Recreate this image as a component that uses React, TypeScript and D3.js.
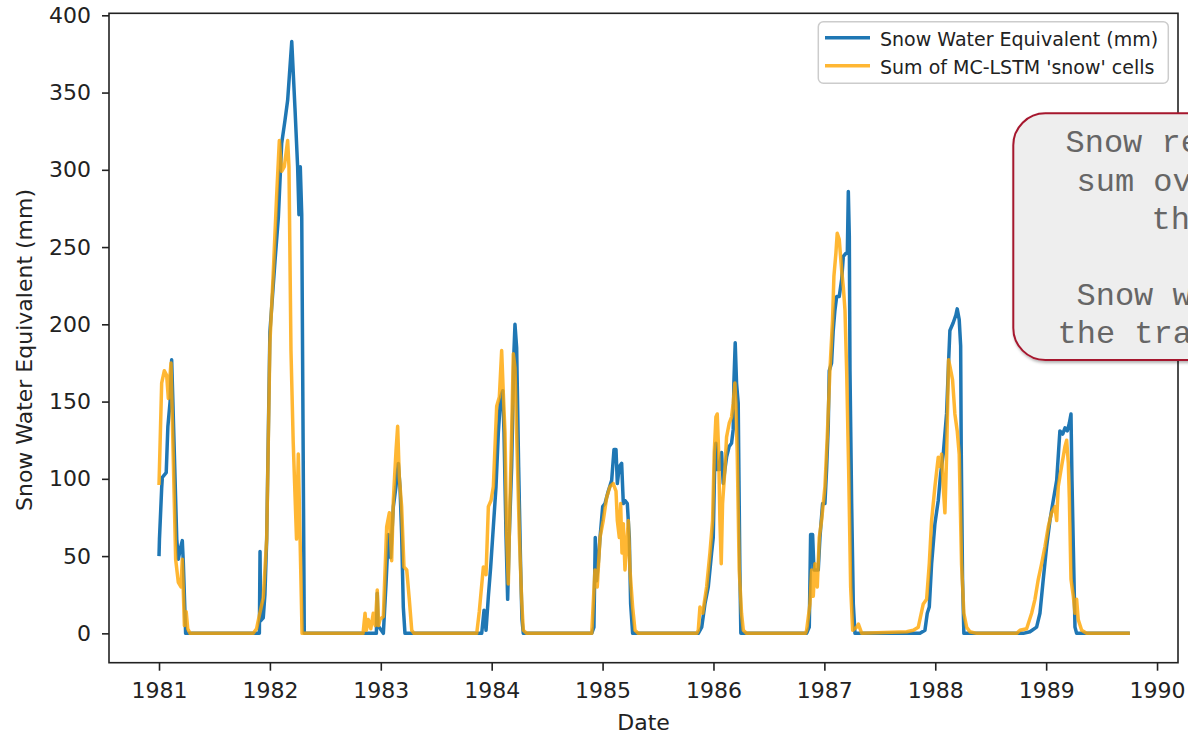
import React, { useRef, useEffect } from "react";
import * as d3 from "d3";

// observed snow water equivalent, [decimal year, mm]
const sweObserved: [number, number][] = [
  [1981.0, 50], [1981.004, 61], [1981.024, 94], [1981.03, 101], [1981.065, 104], [1981.08, 134], [1981.1, 150],
  [1981.114, 177], [1981.125, 150], [1981.16, 61], [1981.174, 48], [1981.196, 56], [1981.21, 60], [1981.219, 46], [1981.24, 0],
  [1981.905, 0], [1981.911, 53], [1981.916, 8], [1981.94, 10], [1981.955, 25], [1981.971, 61], [1982.0, 195], [1982.046, 241],
  [1982.076, 269], [1982.106, 317], [1982.136, 332], [1982.16, 345], [1982.197, 383], [1982.226, 340], [1982.25, 302],
  [1982.262, 271], [1982.274, 302], [1982.287, 271], [1982.31, 0],
  [1982.96, 0], [1982.968, 26], [1982.975, 5], [1983.023, 0], [1983.047, 32], [1983.068, 64], [1983.089, 49], [1983.113, 82],
  [1983.137, 95], [1983.158, 110], [1983.173, 95], [1983.188, 64], [1983.203, 17], [1983.218, 0],
  [1983.91, 0], [1983.931, 15], [1983.949, 2], [1983.97, 24], [1983.991, 43], [1984.015, 69], [1984.039, 95], [1984.06, 130],
  [1984.081, 153], [1984.099, 157], [1984.111, 130], [1984.129, 64], [1984.144, 22], [1984.159, 64], [1984.18, 108],
  [1984.201, 183], [1984.21, 200], [1984.225, 185], [1984.243, 108], [1984.261, 43], [1984.273, 9], [1984.285, 0],
  [1984.902, 0], [1984.922, 4], [1984.934, 62], [1984.946, 34], [1984.961, 45], [1984.977, 62], [1985.001, 82], [1985.022, 84],
  [1985.051, 92], [1985.082, 99], [1985.103, 119], [1985.121, 119], [1985.133, 97], [1985.151, 108], [1985.172, 110],
  [1985.187, 84], [1985.202, 86], [1985.223, 84], [1985.241, 62], [1985.253, 19], [1985.271, 0],
  [1985.863, 0], [1985.894, 4], [1985.923, 19], [1985.953, 30], [1985.983, 52], [1985.998, 62], [1986.013, 117], [1986.022, 123],
  [1986.034, 106], [1986.052, 106], [1986.073, 117], [1986.088, 97], [1986.103, 106], [1986.118, 114], [1986.142, 121],
  [1986.163, 123], [1986.178, 132], [1986.184, 162], [1986.196, 188], [1986.208, 162], [1986.223, 149], [1986.238, 41], [1986.247, 0],
  [1986.84, 0], [1986.864, 4], [1986.876, 64], [1986.894, 64], [1986.906, 41], [1986.945, 41], [1986.96, 62], [1986.984, 84],
  [1987.005, 84], [1987.02, 106], [1987.035, 134], [1987.044, 170], [1987.065, 175], [1987.08, 196], [1987.095, 209],
  [1987.111, 218], [1987.134, 218], [1987.156, 229], [1987.171, 244], [1987.195, 246], [1987.207, 246], [1987.216, 286],
  [1987.225, 257], [1987.231, 170], [1987.246, 84], [1987.261, 19], [1987.276, 0],
  [1987.862, 0], [1987.907, 2], [1987.928, 13], [1987.946, 17], [1987.967, 45], [1987.997, 71], [1988.027, 86], [1988.048, 103],
  [1988.072, 116], [1988.102, 142], [1988.12, 175], [1988.132, 196], [1988.162, 201], [1988.186, 206], [1988.198, 210],
  [1988.216, 203], [1988.229, 186], [1988.234, 121], [1988.246, 35], [1988.258, 0],
  [1988.794, 0], [1988.854, 1], [1988.914, 4], [1988.944, 13], [1988.974, 35], [1989.004, 56], [1989.034, 73], [1989.064, 86],
  [1989.095, 99], [1989.124, 131], [1989.149, 129], [1989.17, 133], [1989.191, 131], [1989.209, 136], [1989.224, 142],
  [1989.233, 99], [1989.245, 56], [1989.26, 4], [1989.275, 0],
  [1989.755, 0],
];

// sum of MC-LSTM 'snow' cells, [decimal year, mm]
const mcLstmSnow: [number, number][] = [
  [1981.0, 96], [1981.024, 162], [1981.048, 170], [1981.069, 167], [1981.084, 152], [1981.108, 175], [1981.129, 112],
  [1981.15, 48], [1981.174, 33], [1981.198, 30], [1981.21, 48], [1981.229, 5], [1981.245, 14], [1981.259, 3], [1981.28, 0],
  [1981.85, 0], [1981.88, 3], [1981.9, 10], [1981.94, 23], [1981.971, 61], [1982.0, 188], [1982.03, 233], [1982.06, 282],
  [1982.085, 319], [1982.106, 299], [1982.13, 302], [1982.16, 319], [1982.172, 302], [1982.19, 183], [1982.21, 124],
  [1982.24, 61], [1982.256, 116], [1982.27, 68], [1982.29, 0],
  [1982.84, 0], [1982.858, 13], [1982.87, 2], [1982.887, 9], [1982.91, 3], [1982.932, 13], [1982.95, 5], [1982.968, 28],
  [1982.98, 5], [1982.993, 9], [1983.023, 11], [1983.053, 69], [1983.077, 78], [1983.098, 47], [1983.113, 86], [1983.137, 118],
  [1983.152, 134], [1983.167, 101], [1983.188, 82], [1983.209, 43], [1983.234, 41], [1983.257, 22], [1983.279, 2], [1983.3, 0],
  [1983.865, 0], [1983.888, 14], [1983.925, 43], [1983.949, 38], [1983.97, 82], [1983.994, 86], [1984.015, 95], [1984.045, 147],
  [1984.069, 153], [1984.09, 183], [1984.105, 155], [1984.12, 130], [1984.135, 64], [1984.15, 32], [1984.165, 86],
  [1984.18, 130], [1984.195, 181], [1984.21, 172], [1984.225, 130], [1984.249, 64], [1984.27, 22], [1984.285, 2], [1984.316, 0],
  [1984.902, 0], [1984.931, 41], [1984.952, 30], [1984.977, 62], [1985.006, 73], [1985.037, 88], [1985.067, 95], [1985.096, 97],
  [1985.121, 92], [1985.133, 73], [1985.151, 62], [1985.163, 84], [1985.175, 52], [1985.187, 71], [1985.202, 41],
  [1985.232, 73], [1985.247, 41], [1985.271, 17], [1985.292, 2], [1985.322, 0],
  [1985.85, 0], [1985.863, 2], [1985.878, 17], [1985.903, 13], [1985.938, 30], [1985.968, 52], [1985.992, 73], [1986.007, 117],
  [1986.022, 140], [1986.034, 142], [1986.047, 117], [1986.058, 73], [1986.07, 45], [1986.082, 84], [1986.103, 106],
  [1986.118, 127], [1986.142, 136], [1986.163, 140], [1986.178, 149], [1986.193, 162], [1986.202, 149], [1986.214, 117],
  [1986.232, 41], [1986.253, 13], [1986.269, 2], [1986.299, 0],
  [1986.83, 0], [1986.84, 2], [1986.87, 19], [1986.885, 41], [1986.9, 24], [1986.915, 45], [1986.936, 30], [1986.954, 62],
  [1986.975, 73], [1987.005, 95], [1987.026, 127], [1987.05, 170], [1987.074, 203], [1987.086, 231], [1987.104, 246],
  [1987.116, 259], [1987.134, 255], [1987.156, 235], [1987.171, 224], [1987.186, 209], [1987.201, 170], [1987.219, 106],
  [1987.237, 30], [1987.255, 2], [1987.292, 4], [1987.307, 6], [1987.337, 0],
  [1987.742, 1], [1987.802, 2], [1987.847, 4], [1987.862, 9], [1987.892, 19], [1987.922, 22], [1987.946, 45], [1987.967, 73],
  [1987.997, 95], [1988.027, 114], [1988.042, 108], [1988.057, 116], [1988.072, 95], [1988.087, 78], [1988.102, 114],
  [1988.12, 177], [1988.132, 173], [1988.156, 164], [1988.177, 142], [1988.198, 131], [1988.216, 116], [1988.237, 45],
  [1988.258, 13], [1988.283, 4], [1988.313, 1], [1988.373, 0],
  [1988.734, 0], [1988.764, 2], [1988.824, 3], [1988.869, 13], [1988.899, 22], [1988.929, 35], [1988.959, 45], [1988.989, 56],
  [1989.019, 69], [1989.049, 78], [1989.079, 82], [1989.095, 73], [1989.109, 95], [1989.139, 108], [1989.17, 121],
  [1989.185, 125], [1989.2, 110], [1989.209, 88], [1989.224, 35], [1989.245, 24], [1989.26, 13], [1989.275, 22],
  [1989.289, 9], [1989.32, 2], [1989.365, 0],
  [1989.755, 0],
];

const yearTicks = [1981, 1982, 1983, 1984, 1985, 1986, 1987, 1988, 1989, 1990];
const sweTicks = [0, 50, 100, 150, 200, 250, 300, 350, 400];
const seriesLabels = ["Snow Water Equivalent (mm)", "Sum of MC-LSTM 'snow' cells"];
const seriesColors = ["#1f77b4", "#ffa500"];
const noteLines = [
  "Snow reservoir is the",
  "sum over all 'snow'",
  "the cells",
  "",
  "Snow was not part of",
  "the training target",
];

const W = 1188;
const H = 734;

const App = () => {
  const svgRef = useRef<SVGSVGElement>(null);

  useEffect(() => {
    document.body.style.margin = "0";
    const svg = d3.select(svgRef.current);
    svg.selectAll("*").remove();

    const left = 109, right = 1178, top = 13.3, bottom = 662.7;

    const x = d3.scaleLinear().domain([1980.549, 1990.189]).range([left, right]);
    const y = d3.scaleLinear().domain([-19, 401.3]).range([bottom, top]);

    const font = "DejaVu Sans, sans-serif";

    // lines
    const line = d3.line<[number, number]>()
      .x(d => x(d[0]))
      .y(d => y(d[1]));

    [sweObserved, mcLstmSnow].forEach((series, i) => {
      svg.append("path")
        .datum(series)
        .attr("d", line)
        .attr("fill", "none")
        .attr("stroke", seriesColors[i])
        .attr("stroke-opacity", i === 1 ? 0.8 : 1)
        .attr("stroke-width", 3.5)
        .attr("stroke-linejoin", "round");
    });

    // x axis
    const xAxis = svg.append("g")
      .attr("transform", `translate(0,${bottom})`)
      .call(d3.axisBottom(x).tickValues(yearTicks).tickFormat(d3.format("d")).tickSize(8).tickPadding(12));
    xAxis.select(".domain").remove();
    xAxis.selectAll("line").attr("stroke", "#222").attr("stroke-width", 1.6);
    xAxis.selectAll("text").attr("font-family", font).attr("font-size", 22).attr("fill", "#222");

    // y axis
    const yAxis = svg.append("g")
      .attr("transform", `translate(${left},0)`)
      .call(d3.axisLeft(y).tickValues(sweTicks).tickSize(7).tickPadding(11));
    yAxis.select(".domain").remove();
    yAxis.selectAll("line").attr("stroke", "#222").attr("stroke-width", 1.6);
    yAxis.selectAll("text").attr("font-family", font).attr("font-size", 22).attr("fill", "#222");

    // frame
    svg.append("rect")
      .attr("x", left)
      .attr("y", top)
      .attr("width", right - left)
      .attr("height", bottom - top)
      .attr("fill", "none")
      .attr("stroke", "#222")
      .attr("stroke-width", 1.6);

    // axis labels
    svg.append("text")
      .attr("x", (left + right) / 2)
      .attr("y", 730)
      .attr("text-anchor", "middle")
      .attr("font-family", font)
      .attr("font-size", 22)
      .attr("fill", "#222")
      .text("Date");

    svg.append("text")
      .attr("transform", "translate(32,350) rotate(-90)")
      .attr("text-anchor", "middle")
      .attr("font-family", font)
      .attr("font-size", 22)
      .attr("fill", "#222")
      .text("Snow Water Equivalent (mm)");

    // legend
    const legend = svg.append("g");
    legend.append("rect")
      .attr("x", 818.3)
      .attr("y", 21.7)
      .attr("width", 350)
      .attr("height", 61.6)
      .attr("rx", 5)
      .attr("fill", "white")
      .attr("fill-opacity", 0.8)
      .attr("stroke", "#cccccc")
      .attr("stroke-width", 1.5);

    seriesLabels.forEach((label, i) => {
      const ly = 37.7 + i * 28;
      legend.append("line")
        .attr("x1", 825)
        .attr("x2", 870)
        .attr("y1", ly)
        .attr("y2", ly)
        .attr("stroke", seriesColors[i])
        .attr("stroke-opacity", i === 1 ? 0.8 : 1)
        .attr("stroke-width", 3.5);
      legend.append("text")
        .attr("x", 880)
        .attr("y", ly + 8.3)
        .attr("font-family", font)
        .attr("font-size", 19)
        .attr("fill", "#222")
        .text(label);
    });

    // callout box
    const defs = svg.append("defs");
    const shadow = defs.append("filter")
      .attr("id", "note-shadow")
      .attr("x", "-10%")
      .attr("y", "-10%")
      .attr("width", "130%")
      .attr("height", "130%");
    shadow.append("feDropShadow")
      .attr("dx", 1)
      .attr("dy", 2)
      .attr("stdDeviation", 1.5)
      .attr("flood-color", "#000")
      .attr("flood-opacity", 0.3);

    svg.append("rect")
      .attr("x", 1013.3)
      .attr("y", 113.3)
      .attr("width", 260)
      .attr("height", 246.7)
      .attr("rx", 32)
      .attr("fill", "#eeeeee")
      .attr("stroke", "#a6192e")
      .attr("stroke-width", 2)
      .attr("filter", "url(#note-shadow)");

    const noteX = [1065.5, 1076.5, 1151.5, 0, 1076.5, 1057.5];
    const noteY = [152, 190.5, 228.5, 266, 305, 343];
    noteLines.forEach((t, i) => {
      if (!t) return;
      svg.append("text")
        .attr("x", noteX[i])
        .attr("y", noteY[i])
        .attr("font-family", "Liberation Mono, DejaVu Sans Mono, monospace")
        .attr("font-size", 32)
        .attr("fill", "#666666")
        .text(t);
    });
  }, []);

  return <svg ref={svgRef} width={W} height={H} style={{ display: "block", background: "white" }} />;
};

export default App;
